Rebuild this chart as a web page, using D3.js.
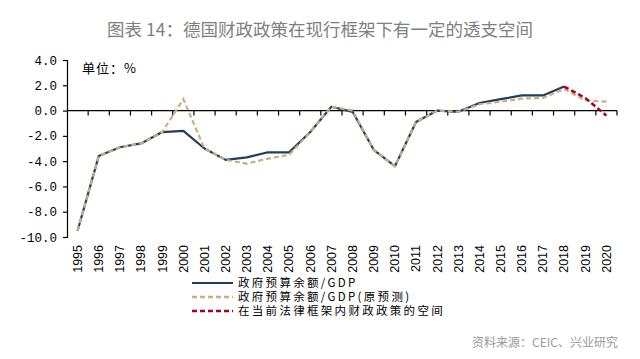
<!DOCTYPE html>
<html><head><meta charset="utf-8">
<script src="https://cdn.jsdelivr.net/npm/d3@7/dist/d3.min.js"></script>
<style>body{margin:0;background:#fff}svg{display:block}</style>
</head><body><svg id="c" width="640" height="359"></svg>
<script>
const years = d3.range(1995, 2021).map(String);
const actual = [-9.5,-3.6,-2.9,-2.6,-1.7,-1.6,-3.0,-3.9,-3.7,-3.3,-3.3,-1.7,0.3,-0.1,-3.1,-4.4,-0.9,0.0,-0.1,0.6,0.9,1.2,1.2,1.9];
const forecast = [-9.5,-3.6,-2.9,-2.6,-1.7,0.9,-3.0,-3.9,-4.2,-3.8,-3.5,-1.7,0.3,0.0,-3.1,-4.4,-0.9,0.0,-0.1,0.5,0.7,0.95,1.0,1.7,0.8,0.7];
const spaceYears = ["2018","2019","2020"];
const space = [1.9,1.0,-0.4];
const yTicks = [4,2,0,-2,-4,-6,-8,-10];
const legendLabels = ["政府预算余额/GDP","政府预算余额/GDP(原预测)","在当前法律框架内财政政策的空间"];
const title = "图表 14：德国财政政策在现行框架下有一定的透支空间";
const unitLabel = "单位：%";
const source = "资料来源：CEIC、兴业研究";

const colors = ["#203d5c","#c8b07f","#a8001f"];
const svg = d3.select("#c");
const x = d3.scaleBand().domain(years).range([67,617]).padding(0);
const bw = x.bandwidth();
const y = d3.scaleLinear().domain([-10,4]).range([237,60]);
const cx = d => x(d) + bw/2;

svg.append("text").attr("x",320).attr("y",36).attr("text-anchor","middle")
  .attr("font-family","Noto Sans CJK SC").attr("font-size",17.5).attr("fill","#7f7f7f").text(title);

// y axis
const ya = d3.axisLeft(y).tickValues(yTicks).tickSize(4).tickPadding(6)
  .tickFormat(d => d3.format(".1f")(d).replace("−","-"));
const yg = svg.append("g").attr("transform","translate(67,0)").call(ya);
yg.select(".domain").attr("stroke","#000").attr("stroke-width",1.2).attr("d","M-4,60.5H0.5V237.5H-4");
yg.selectAll("line").attr("stroke","#000").attr("stroke-width",1.2);
yg.selectAll("text").attr("font-family","Liberation Mono").attr("font-size",12.5).attr("fill","#000");

// zero axis with band ticks
const zg = svg.append("g").attr("transform",`translate(0,${y(0)})`);
zg.append("line").attr("x1",67).attr("x2",617).attr("stroke","#000").attr("stroke-width",1.2);
zg.selectAll("line.t").data(years).enter().append("line").attr("class","t")
  .attr("x1",d=>x(d)+bw).attr("x2",d=>x(d)+bw).attr("y1",0).attr("y2",5)
  .attr("stroke","#000").attr("stroke-width",1.2);

// year labels
const xa = d3.axisBottom(x).tickSize(0).tickPadding(0);
const xg = svg.append("g").attr("transform","translate(0,245)").call(xa);
xg.select(".domain").remove();
xg.selectAll("text").attr("font-family","Liberation Sans").attr("font-size",12.5).attr("fill","#000")
  .attr("text-anchor","end").attr("dy","0.35em").attr("x",0).attr("y",0)
  .attr("transform","rotate(-90)");

const line = d3.line().x(d=>cx(d[0])).y(d=>y(d[1]));
svg.append("path").datum(years.slice(0,actual.length).map((d,i)=>[d,actual[i]]))
  .attr("d",line).attr("fill","none").attr("stroke",colors[0]).attr("stroke-width",2.2).attr("stroke-linejoin","round");
svg.append("path").datum(years.map((d,i)=>[d,forecast[i]]))
  .attr("d",line).attr("fill","none").attr("stroke",colors[1]).attr("stroke-width",2.2).attr("stroke-dasharray","5,3");
svg.append("path").datum(spaceYears.map((d,i)=>[d,space[i]]))
  .attr("d",line).attr("fill","none").attr("stroke",colors[2]).attr("stroke-width",2.5).attr("stroke-dasharray","5,3");

svg.append("text").attr("x",82).attr("y",73).attr("font-family","Noto Sans CJK SC").attr("font-size",13)
  .attr("letter-spacing",1).attr("fill","#000").text(unitLabel);

// legend
const lg = svg.append("g");
legendLabels.forEach((t,i)=>{
  const yy = 283 + i*14;
  lg.append("line").attr("x1",192).attr("x2",233).attr("y1",yy).attr("y2",yy)
    .attr("stroke",colors[i]).attr("stroke-width",i==0?2.2:2.5).attr("stroke-dasharray",i==0?null:"5,3");
  lg.append("text").attr("x",238).attr("y",yy).attr("dy","0.35em").attr("font-family","Noto Sans CJK SC")
    .attr("font-size",11.5).attr("letter-spacing",2.3).attr("fill","#000").text(t);
});

svg.append("text").attr("x",618).attr("y",347).attr("text-anchor","end").attr("font-family","Noto Sans CJK SC")
  .attr("font-size",12).attr("fill","#9a9a9a").text(source);
</script></body></html>
